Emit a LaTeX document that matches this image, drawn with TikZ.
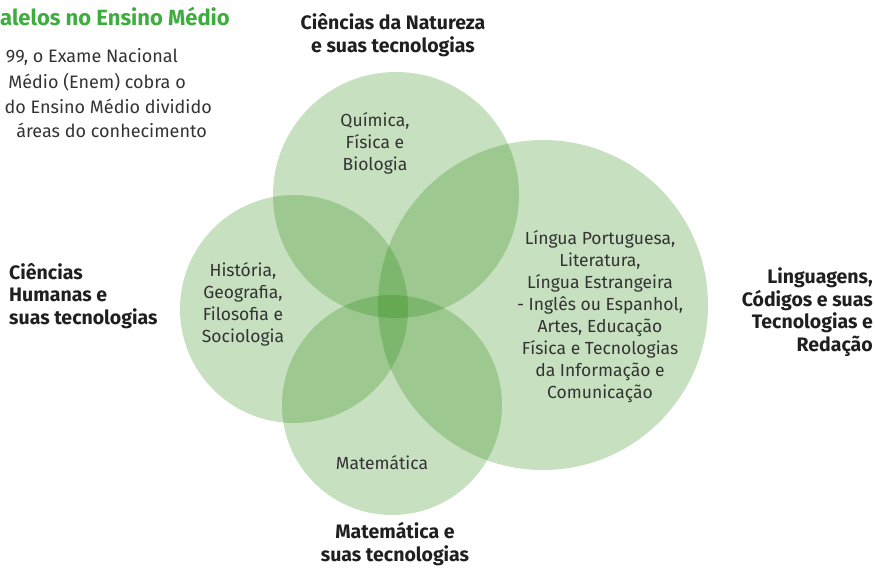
\documentclass[tikz,border=0pt]{standalone}
\usepackage{fontspec}
\setmainfont{Fira Sans}
\definecolor{vennfill}{RGB}{31,131,3}
\definecolor{titlegreen}{RGB}{62,172,62}
\definecolor{bodygray}{RGB}{51,51,51}

\begin{document}
\begin{tikzpicture} [x = 1pt, y = -1pt,
  area/.style = {fill = vennfill, fill opacity = 0.25},
  subjects/.style = {align = center, text = bodygray, inner sep = 0pt,
    font = \fontsize{17.5}{22}\selectfont},
  field/.style = {text = black!88, inner sep = 0pt,
    font = \fontsize{19.5}{22.5}\selectfont\bfseries},
  intro/.style = {anchor = east, text = bodygray, inner sep = 0pt,
    font = \fontsize{18}{22}\selectfont}]
\useasboundingbox (0, 0) rectangle (875, 568);
\fill[area] (396, 195) circle (123);
\fill[area] (294, 309) circle (114);
\fill[area] (392, 405) circle (110);
\fill[area] (543, 305) circle (165);
\node[anchor = west, inner sep = 0pt, text = titlegreen,
  font = \fontsize{22}{22}\selectfont\bfseries] (title) at (0, 16){alelos no Ensino Médio};
\node[intro] (introa) at (178, 57){99, o Exame Nacional};
\node[intro] (introb) at (186, 82){Médio (Enem) cobra o};
\node[intro] (introc) at (212, 106){do Ensino Médio dividido};
\node[intro] (introd) at (207, 130){áreas do conhecimento};
\node[subjects] (natsubj) at (375, 143){Química,\\Física e\\Biologia};
\node[subjects] (humsubj) at (243, 304){História,\\Geografia,\\Filosofia e\\Sociologia};
\node[subjects] (lingsubj) at (600, 317){Língua Portuguesa,\\Literatura,\\Língua Estrangeira\\- Inglês ou Espanhol,\\Artes, Educação\\Física e Tecnologias\\da Informação e\\Comunicação};
\node[subjects] (matsubj) at (382, 463){Matemática};
\node[field, align = center] (nat) at (393, 35){Ciências da Natureza\\e suas tecnologias};
\node[field, align = left, anchor = west] (hum) at (9, 296){Ciências\\Humanas e\\suas tecnologias};
\node[field, align = right, anchor = east] (ling) at (873, 312){Linguagens,\\Códigos e suas\\Tecnologias e\\Redação};
\node[field, align = center] (mat) at (395, 544){Matemática e\\suas tecnologias};
\end{tikzpicture}
\end{document}
